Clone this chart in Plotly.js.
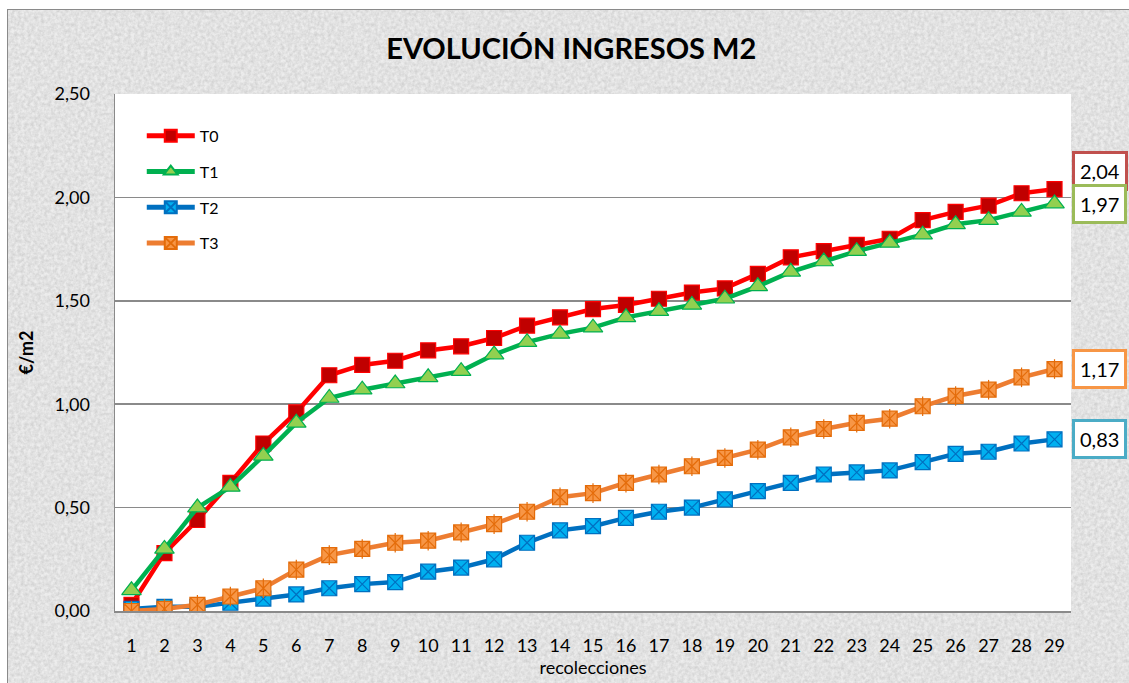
<!DOCTYPE html>
<html>
<head>
<meta charset="utf-8">
<script src="https://cdn.plot.ly/plotly-3.0.1.min.js"></script>
<style>
  html, body { margin: 0; padding: 0; background: #ffffff; width: 1129px; height: 683px; overflow: hidden; }
  #wrap {
    position: absolute; left: 7px; top: 9px; width: 1122px; height: 674px;
    border-left: 1.5px solid #8a8a8a; border-top: 1.5px solid #8a8a8a;
    box-sizing: border-box;
    background-color: #ededed;
    background-image: url("data:image/svg+xml;utf8,<svg xmlns='http://www.w3.org/2000/svg' width='300' height='300'><filter id='n'><feTurbulence type='fractalNoise' baseFrequency='0.3' numOctaves='3' stitchTiles='stitch'/><feColorMatrix type='matrix' values='0 0 0 0 0.5  0 0 0 0 0.5  0 0 0 0 0.5  0 0 0 0.9 -0.22'/></filter><rect width='300' height='300' filter='url(%23n)'/></svg>");
  }
  #chart { position: absolute; left: 0; top: 0; width: 1122px; height: 674px; }
</style>
</head>
<body>
<div id="wrap"><div id="chart"></div></div>
<script>
// ---- data ----
const categories = [1, 2, 3, 4, 5, 6, 7, 8, 9, 10, 11, 12, 13, 14, 15, 16, 17, 18, 19, 20, 21, 22, 23, 24, 25, 26, 27, 28, 29];
const seriesNames = ["T0", "T1", "T2", "T3"];
const T0 = [0.03, 0.28, 0.44, 0.62, 0.81, 0.96, 1.14, 1.19, 1.21, 1.26, 1.28, 1.32, 1.38, 1.42, 1.46, 1.48, 1.51, 1.54, 1.56, 1.63, 1.71, 1.74, 1.77, 1.80, 1.89, 1.93, 1.96, 2.02, 2.04];
const T1 = [0.10, 0.30, 0.50, 0.60, 0.75, 0.91, 1.03, 1.07, 1.10, 1.13, 1.16, 1.24, 1.30, 1.34, 1.37, 1.42, 1.45, 1.48, 1.51, 1.57, 1.64, 1.69, 1.74, 1.78, 1.82, 1.87, 1.89, 1.93, 1.97];
const T2 = [0.01, 0.02, 0.02, 0.04, 0.06, 0.08, 0.11, 0.13, 0.14, 0.19, 0.21, 0.25, 0.33, 0.39, 0.41, 0.45, 0.48, 0.50, 0.54, 0.58, 0.62, 0.66, 0.67, 0.68, 0.72, 0.76, 0.77, 0.81, 0.83];
const T3 = [0.00, 0.01, 0.03, 0.07, 0.11, 0.20, 0.27, 0.30, 0.33, 0.34, 0.38, 0.42, 0.48, 0.55, 0.57, 0.62, 0.66, 0.70, 0.74, 0.78, 0.84, 0.88, 0.91, 0.93, 0.99, 1.04, 1.07, 1.13, 1.17];
const yTicks = [0, 0.5, 1.0, 1.5, 2.0, 2.5];
const yTickText = ["0,00", "0,50", "1,00", "1,50", "2,00", "2,50"];
const titleText = "EVOLUCIÓN INGRESOS M2";
const xTitle = "recolecciones";
const yTitle = "€/m2";

// ---- styles ----
const FONT = "Lato, 'Open Sans', sans-serif";
const styles = [
  { line: "#FF0000", fill: "#C00000", mline: "#FF0000", symbol: "square", size: 15, box: "#C0504D", yshift: 18 },
  { line: "#00B050", fill: "#92D050", mline: "#00B050", symbol: "triangle-up", size: 17, box: "#9BBB59", yshift: 0 },
  { line: "#0070C0", fill: "#00B0F0", mline: "#0070C0", symbol: "square-x", size: 15, box: "#4BACC6", yshift: 0 },
  { line: "#ED7D31", fill: "#F79646", mline: "#E46C0A", symbol: "square-x", size: 15, box: "#F79646", yshift: 0 }
];
const allSeries = [T0, T1, T2, T3];

const traces = [];
allSeries.forEach((vals, i) => {
  const s = styles[i];
  traces.push({
    x: categories, y: vals, name: seriesNames[i], type: "scatter", mode: "lines+markers",
    legendgroup: seriesNames[i],
    line: { color: s.line, width: 4.5 },
    marker: { symbol: s.symbol, size: s.size, color: s.fill, line: { color: s.mline, width: 1.2 } }
  });
  if (i === 3) {
    // vertical stroke to complete the asterisk marker
    traces.push({
      x: categories, y: vals, name: seriesNames[i], type: "scatter", mode: "markers",
      legendgroup: seriesNames[i], showlegend: false, hoverinfo: "skip",
      marker: { symbol: "line-ns-open", size: 14, color: s.mline, line: { color: s.mline, width: 1.2 } }
    });
  }
});

const fmt = v => v.toFixed(2).replace(".", ",");
const annotations = allSeries.map((vals, i) => ({
  x: categories[categories.length - 1], y: vals[vals.length - 1], xref: "x", yref: "y",
  text: fmt(vals[vals.length - 1]), showarrow: false,
  xanchor: "center", yanchor: "middle", xshift: 45, yshift: styles[i].yshift,
  font: { family: FONT, size: 20, color: "#000" },
  bgcolor: "#ffffff", bordercolor: styles[i].box, borderwidth: 3, borderpad: 5
}));

const layout = {
  width: 1122, height: 674,
  margin: { l: 107, r: 59, t: 84, b: 73, pad: 0 },
  paper_bgcolor: "rgba(0,0,0,0)",
  plot_bgcolor: "#ffffff",
  separators: ",.",
  font: { family: FONT, color: "#000" },
  title: {
    text: "<b>" + titleText + "</b>", x: 0.502, xref: "container", xanchor: "center",
    y: 0.942, yref: "container", yanchor: "middle",
    font: { family: FONT, size: 29, color: "#000" }
  },
  xaxis: {
    range: [0.5, 29.5], tickvals: categories, ticktext: categories.map(String),
    showgrid: false, zeroline: false,
    showline: true, linecolor: "#8a8a8a", linewidth: 1.5,
    ticks: "outside", ticklen: 18, tickcolor: "rgba(0,0,0,0)",
    tickfont: { family: FONT, size: 18, color: "#000" },
    title: { text: xTitle, standoff: 3, font: { family: FONT, size: 18, color: "#000" } },
    fixedrange: true
  },
  yaxis: {
    range: [0, 2.5], tickvals: yTicks, ticktext: yTickText,
    showgrid: true, gridcolor: "#8a8a8a", gridwidth: 1.5,
    zeroline: false,
    showline: true, linecolor: "#8a8a8a", linewidth: 1.5,
    ticks: "outside", ticklen: 20, tickcolor: "rgba(0,0,0,0)",
    tickfont: { family: FONT, size: 18, color: "#000" },
    title: { text: "<b>" + yTitle + "</b>", standoff: 16, font: { family: FONT, size: 18, color: "#000" } },
    fixedrange: true
  },
  showlegend: true,
  legend: {
    x: 0.028, y: 0.952, xanchor: "left", yanchor: "top",
    bgcolor: "rgba(0,0,0,0)", borderwidth: 0,
    traceorder: "grouped", tracegroupgap: 12, itemsizing: "constant", itemwidth: 48,
    font: { family: FONT, size: 16, color: "#000" }
  },
  annotations: annotations
};

Plotly.newPlot("chart", traces, layout, { displayModeBar: false, staticPlot: true });
</script>
</body>
</html>
